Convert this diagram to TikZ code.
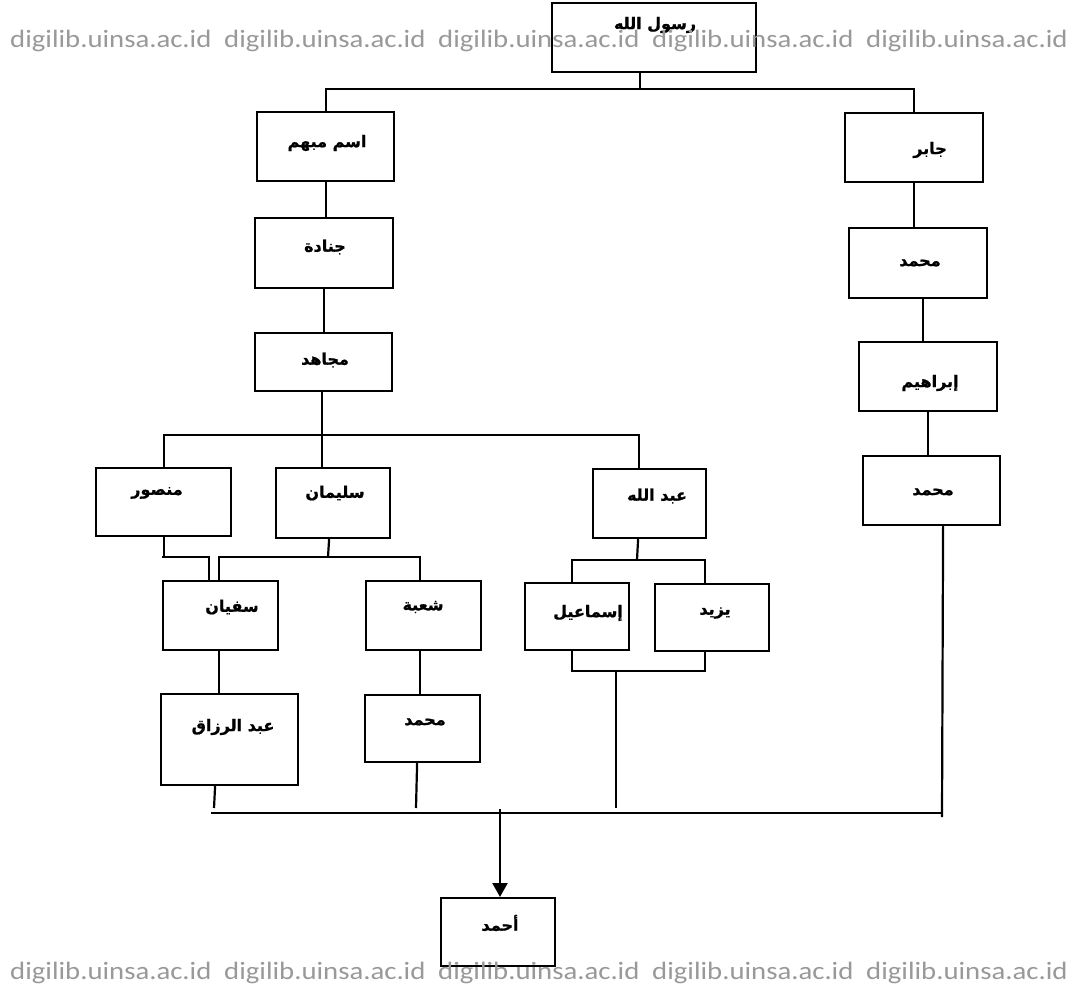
\documentclass[tikz,border=0pt]{standalone}
\usepackage{fontspec}
\usetikzlibrary{arrows.meta}
\TeXXeTstate=1
\newfontfamily\arabicfont[Script=Arabic, FakeBold=1]{DejaVu Sans Bold}
\newfontfamily\wmfont{Carlito}
\tikzset{
  box/.style={draw, line width=2.2pt, anchor=north west, inner sep=0pt},
  ln/.style={line width=2.2pt},
  txt/.style={inner sep=0pt, font=\arabicfont\fontsize{16}{19}\selectfont},
  wm/.style={inner sep=0pt, anchor=base west, text=black!40, xscale=1.15, font=\wmfont\fontsize{25}{30}\selectfont}
}
\newcommand{\AR}[1]{\beginR #1\endR}
\begin{document}
\begin{tikzpicture}[x=1pt,y=-1pt]
\useasboundingbox (0,0) rectangle (1080,996);
\fill[white] (0,0) rectangle (1080,996);
% boxes
\node[box, minimum width=204pt, minimum height=69pt] (rasul) at (551,2) {};
\node[box, minimum width=137pt, minimum height=69pt] (ism) at (256,111) {};
\node[box, minimum width=138pt, minimum height=69pt] (jabir) at (844,112) {};
\node[box, minimum width=138pt, minimum height=70pt] (janada) at (254,217) {};
\node[box, minimum width=137pt, minimum height=58pt] (mujahid) at (254,332) {};
\node[box, minimum width=138pt, minimum height=70pt] (moh1) at (848,227) {};
\node[box, minimum width=138pt, minimum height=69pt] (ibrahim) at (858,341) {};
\node[box, minimum width=137pt, minimum height=69pt] (moh2) at (862,455) {};
\node[box, minimum width=135pt, minimum height=68pt] (mansur) at (95,467) {};
\node[box, minimum width=114pt, minimum height=70pt] (sulayman) at (275,467) {};
\node[box, minimum width=113pt, minimum height=69pt] (abdullah) at (592,468) {};
\node[box, minimum width=115pt, minimum height=69pt] (sufyan) at (162,580) {};
\node[box, minimum width=115pt, minimum height=69pt] (shuba) at (365,580) {};
\node[box, minimum width=104pt, minimum height=67pt] (ismail) at (524,582) {};
\node[box, minimum width=114pt, minimum height=67pt] (yazid) at (654,583) {};
\node[box, minimum width=137pt, minimum height=91pt] (razzaq) at (160,693) {};
\node[box, minimum width=115pt, minimum height=67pt] (moh3) at (364,694) {};
\node[box, minimum width=114pt, minimum height=68pt] (ahmad) at (440,897) {};
% texts
\node[txt] (t-rasul) at (655,25) {\AR{رسول الله}};
\node[txt] (t-ism) at (327,143) {\AR{اسم مبهم}};
\node[txt] (t-jabir) at (930,150) {\AR{جابر}};
\node[txt] (t-janada) at (325,247) {\AR{جنادة}};
\node[txt] (t-mujahid) at (325,360) {\AR{مجاهد}};
\node[txt] (t-moh1) at (920,263) {\AR{محمد}};
\node[txt] (t-ibrahim) at (930,383) {\AR{إبراهيم}};
\node[txt] (t-moh2) at (933,492) {\AR{محمد}};
\node[txt] (t-mansur) at (157,493) {\AR{منصور}};
\node[txt] (t-sulayman) at (335,493) {\AR{سليمان}};
\node[txt] (t-abdullah) at (657,496) {\AR{عبد الله}};
\node[txt] (t-sufyan) at (232,607) {\AR{سفيان}};
\node[txt] (t-shuba) at (423,607) {\AR{شعبة}};
\node[txt] (t-ismail) at (588,613) {\AR{إسماعيل}};
\node[txt] (t-yazid) at (715,613) {\AR{يزيد}};
\node[txt] (t-razzaq) at (233,727) {\AR{عبد الرزاق}};
\node[txt] (t-moh3) at (425,722) {\AR{محمد}};
\node[txt] (t-ahmad) at (500,923) {\AR{أحمد}};
% junction coordinates
\coordinate (h1) at (640,89);
\coordinate (h2) at (322,435);
\coordinate (c1) at (162,557);
\coordinate (c2) at (328,557);
\coordinate (c3) at (637,560);
\coordinate (c4) at (616,671);
\coordinate (e1) at (214,808);
\coordinate (e2) at (416,808);
\coordinate (e3) at (616,808);
\coordinate (e4) at (942,817);
\coordinate (b1) at (211,813);
\coordinate (b2) at (942,813);
\coordinate (a0) at (500,809);
% connectors
\draw[ln] (rasul.south -| h1) -- (h1);
\draw[ln] (ism.north) |- (h1) -| (jabir.north);
\draw[ln] (ism.south) -- (ism.south |- janada.north);
\draw[ln] (janada.south) -- (janada.south |- mujahid.north);
\draw[ln] (mujahid.south -| h2) -- (h2);
\draw[ln] (mansur.north) |- (h2) -| ([xshift=-11pt]abdullah.north);
\draw[ln] (h2) -- (h2 |- sulayman.north);
\draw[ln] (mansur.south) |- (c1) -| ([xshift=-11.5pt]sufyan.north);
\draw[ln] ([xshift=-4pt]sulayman.south) -- (c2);
\draw[ln] ([xshift=-1.5pt]sufyan.north) |- (c2) -| ([xshift=-3.5pt]shuba.north);
\draw[ln] ([xshift=-11.5pt]abdullah.south) -- (c3);
\draw[ln] ([xshift=-5pt]ismail.north) |- (c3) -| ([xshift=-7pt]yazid.north);
\draw[ln] ([xshift=-5pt]ismail.south) |- (c4) -| ([xshift=-7pt]yazid.south);
\draw[ln] (c4) -- (e3);
\draw[ln] (jabir.south) -- (jabir.south |- moh1.north);
\draw[ln] ([xshift=5pt]moh1.south) -- ([xshift=5pt]moh1.south |- ibrahim.north);
\draw[ln] (ibrahim.south) -- (ibrahim.south |- moh2.north);
\draw[ln] ([xshift=11.5pt]moh2.south) -- (e4);
\draw[ln] ([xshift=-2pt]sufyan.south) -- ([xshift=-2pt]sufyan.south |- razzaq.north);
\draw[ln] ([xshift=-3.5pt]shuba.south) -- ([xshift=-3.5pt]shuba.south |- moh3.north);
\draw[ln] ([xshift=-14.5pt]razzaq.south) -- (e1);
\draw[ln] ([xshift=-5.5pt]moh3.south) -- (e2);
\draw[line width=2.6pt] (b1) -- (b2);
\draw[ln, -{Triangle[length=14pt,width=15pt]}] (a0) -- (a0 |- ahmad.north);
% watermark
\foreach \k [count=\i] in {10,224,438,652,866}{
  \node[wm] (wt\i) at (\k,47) {digilib.uinsa.ac.id};
  \node[wm] (wb\i) at (\k,979) {digilib.uinsa.ac.id};
}
\end{tikzpicture}
\end{document}
